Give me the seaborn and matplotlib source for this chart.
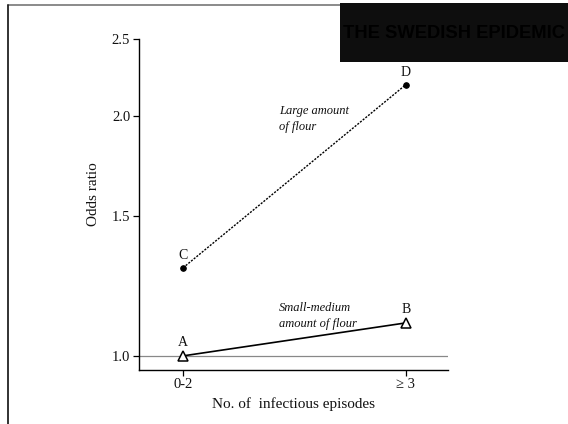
import matplotlib
matplotlib.use("Agg")
import matplotlib.pyplot as plt
import seaborn as sns
import pandas as pd
from matplotlib.patches import Rectangle
from matplotlib.lines import Line2D

# ---- data ----
episodes = ["0-2", "\u2265 3"]
small_medium = [1.00, 1.10]   # A, B
large = [1.29, 2.19]          # C, D
small_labels = ["A", "B"]
large_labels = ["C", "D"]
yticks = [1.0, 1.5, 2.0, 2.5]
ytick_labels = ["1.0", "1.5", "2.0", "2.5"]

sns.set_theme(style="white")
serif = ["Liberation Serif", "DejaVu Serif"]
plt.rcParams["font.family"] = serif

df_small = pd.DataFrame({"episodes": episodes, "odds": small_medium})
df_large = pd.DataFrame({"episodes": episodes, "odds": large})

fig = plt.figure(figsize=(5.68, 4.24), dpi=100)
ax = fig.add_axes([138.5 / 568, 1 - 370 / 424, (448 - 138.5) / 568, (370 - 39) / 424])

ax.axhline(1.0, color="#888888", lw=0.9, zorder=1)

sns.pointplot(data=df_small, x="episodes", y="odds", order=episodes, errorbar=None,
              color="black", markers="^", linestyles="-", ax=ax,
              markerfacecolor="white", markeredgecolor="black", markersize=7,
              markeredgewidth=1.1, lw=1.2, zorder=3)
sns.pointplot(data=df_large, x="episodes", y="odds", order=episodes, errorbar=None,
              color="black", markers="o", linestyles=(0, (1.5, 1.0)), ax=ax,
              markersize=4, lw=1.0, zorder=3)

ax.set_yscale("log")
ax.set_ylim(0.96, 2.5)
ax.set_xlim(-0.2, 1.19)
ax.set_yticks(yticks)
ax.set_yticklabels(ytick_labels)
ax.yaxis.set_minor_locator(matplotlib.ticker.NullLocator())

for s in ["top", "right"]:
    ax.spines[s].set_visible(False)
for s in ["left", "bottom"]:
    ax.spines[s].set_color("black")
    ax.spines[s].set_linewidth(1.0)

ax.tick_params(axis="both", direction="out", length=4, width=0.9, color="black",
               labelsize=10.5, labelcolor="#111111", pad=2, left=True, bottom=True)
for lab in ax.get_xticklabels() + ax.get_yticklabels():
    lab.set_family(serif)

ax.set_xlabel("No. of  infectious episodes", fontsize=11, color="#111111", labelpad=4)
ax.set_ylabel("Odds ratio", fontsize=11, color="#111111")
ax.yaxis.set_label_coords(-0.125, 0.53)

# point letters
for i, (v, t) in enumerate(zip(small_medium, small_labels)):
    ax.annotate(t, (i, v), xytext=(0, 5), textcoords="offset points",
                ha="center", va="bottom", fontsize=10, color="#111111")
for i, (v, t) in enumerate(zip(large, large_labels)):
    ax.annotate(t, (i, v), xytext=(0, 4), textcoords="offset points",
                ha="center", va="bottom", fontsize=10, color="#111111")

ax.text(0.43, 1.985, "Large amount\nof flour", style="italic", fontsize=9,
        ha="left", va="center", color="#111111", linespacing=1.45)
ax.text(0.43, 1.122, "Small-medium\namount of flour", style="italic", fontsize=9,
        ha="left", va="center", color="#111111", linespacing=1.45)

# page frame lines
fig.add_artist(Line2D([8 / 568, 340 / 568], [1 - 5 / 424, 1 - 5 / 424],
                      color="#777777", lw=1.2, transform=fig.transFigure))
fig.add_artist(Line2D([8 / 568, 8 / 568], [1 - 5 / 424, 0],
                      color="#222222", lw=1.3, transform=fig.transFigure))

# black header box
fig.add_artist(Rectangle((340 / 568, 1 - 62 / 424), 228 / 568, 59 / 424,
                         transform=fig.transFigure, facecolor="#0e0e0e",
                         edgecolor="none", zorder=5))
fig.text(343 / 568, 1 - 33 / 424, "THE SWEDISH EPIDEMIC", fontsize=13.2,
         fontweight="bold", family=["Liberation Sans", "DejaVu Sans"],
         color="#000000", ha="left", va="center", zorder=6)

fig.savefig("out.png", dpi=100)
